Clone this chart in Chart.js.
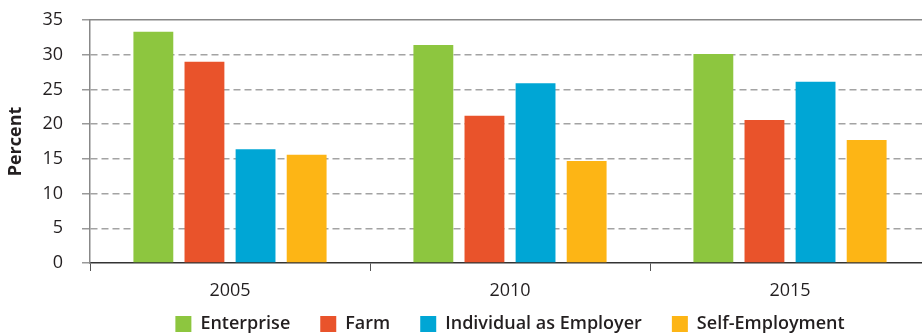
<!DOCTYPE html>
<html>
<head>
<meta charset="utf-8">
<script src="https://cdn.jsdelivr.net/npm/chart.js@4/dist/chart.umd.min.js"></script>
<style>
    html, body { margin: 0; padding: 0; background: #fff; }
    #wrap { width: 922px; height: 335px; overflow: hidden; position: relative; }
    #chart { position: absolute; left: 0; top: 0; }
</style>
</head>
<body>
<div id="wrap"><canvas id="chart" width="940" height="335"></canvas></div>
<script>
// data
const years = ['2005', '2010', '2015'];
const enterprise = [33.3, 31.4, 30.1];
const farm = [29.0, 21.2, 20.6];
const individualEmployer = [16.4, 25.9, 26.1];
const selfEmployment = [15.6, 14.7, 17.7];

const FONT = '"Open Sans", Lato, sans-serif';
const TEXT = '#231f20';

// legend keeps wide gaps between items, so pull its rows up a little
const legendLift = {
    id: 'legendLift',
    afterLayout(chart) {
        if (chart.legend) chart.legend.top -= 20;
    }
};

const ctx = document.getElementById('chart').getContext('2d');
new Chart(ctx, {
    type: 'bar',
    data: {
        labels: years,
        datasets: [
            { label: 'Enterprise', data: enterprise, backgroundColor: '#8dc63f' },
            { label: 'Farm', data: farm, backgroundColor: '#e9532b' },
            { label: 'Individual as Employer', data: individualEmployer, backgroundColor: '#00a6d5' },
            { label: 'Self-Employment', data: selfEmployment, backgroundColor: '#fdb515' }
        ]
    },
    plugins: [legendLift],
    options: {
        responsive: false,
        animation: false,
        layout: { padding: { top: 20, right: 10, left: 0, bottom: 0 } },
        datasets: { bar: { categoryPercentage: 0.73, barPercentage: 0.78 } },
        plugins: {
            tooltip: { enabled: false },
            legend: {
                position: 'bottom',
                fullSize: false,
                maxHeight: 30,
                labels: {
                    boxWidth: 16, boxHeight: 16, padding: 30,
                    color: TEXT,
                    font: { family: FONT, size: 18, weight: '600' }
                }
            }
        },
        scales: {
            x: {
                grid: { display: true, offset: true, drawOnChartArea: false, drawTicks: true, tickLength: 8, tickColor: '#555' },
                border: { color: '#333', width: 1.5 },
                ticks: { color: TEXT, padding: 9, font: { family: FONT, size: 18 } },
                afterFit: s => { s.height = 42; }
            },
            x2: {
                type: 'category',
                position: 'top',
                labels: years,
                grid: { display: false },
                ticks: { display: false },
                border: { color: '#888', width: 1.5 },
                afterFit: s => { s.height = 0; }
            },
            y: {
                min: 0, max: 35,
                ticks: { stepSize: 5, color: TEXT, padding: 19, font: { family: FONT, size: 18 } },
                grid: {
                    color: c => (c.tick.value === 0 || c.tick.value === 35) ? 'rgba(0,0,0,0)' : '#a3a3a3',
                    lineWidth: 1.5,
                    tickLength: 8,
                    tickColor: '#999'
                },
                border: { color: '#888', width: 1.5, dash: [7, 4] },
                title: {
                    display: true, text: 'Percent', color: TEXT,
                    font: { family: FONT, size: 18, weight: 'bold' },
                    padding: { top: 5, bottom: 0 }
                },
                afterFit: s => {
                    s.width = 90;
                    s.paddingTop = 10;
                    s.paddingBottom = 10;
                }
            }
        }
    }
});
</script>
</body>
</html>
